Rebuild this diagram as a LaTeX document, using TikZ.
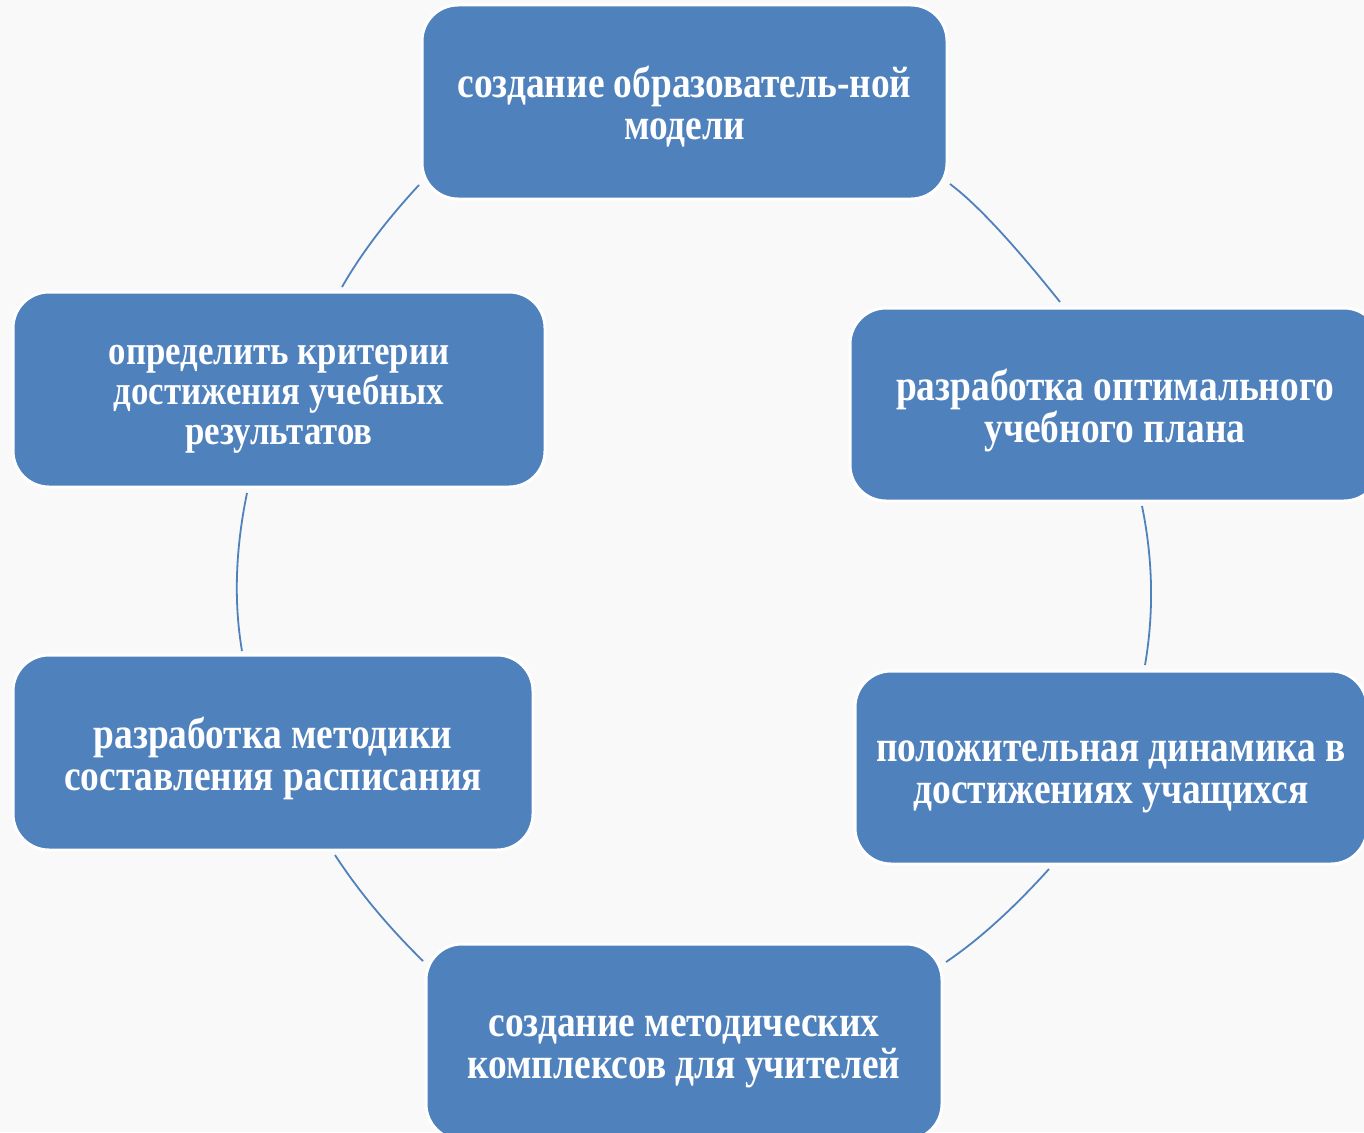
\documentclass[tikz,border=0pt]{standalone}
\usepackage{fontspec}
\setmainfont[FakeStretch=0.85]{Liberation Serif}
\definecolor{boxblue}{RGB}{79,129,189}
\definecolor{bgcol}{RGB}{249,249,249}
\begin{document}
\begin{tikzpicture}[x=1pt,y=-1pt,
  box/.style={draw=white, line width=3pt, fill=boxblue, rounded corners=36pt, inner sep=0pt},
  txt/.style={text=white, font=\fontsize{44}{42}\selectfont\bfseries, align=center, inner sep=0pt},
  link/.style={draw=boxblue, line width=1.8pt}]
\fill[bgcol] (0,0) rectangle (1364,1132);
\useasboundingbox (0,0) rectangle (1364,1132);
\clip (0,0) rectangle (1364,1132);
% arc end points
\coordinate (a1s) at (419,185);  \coordinate (a1e) at (342,287);
\coordinate (a2s) at (950,184);  \coordinate (a2e) at (1060,302);
\coordinate (a3s) at (247,493);  \coordinate (a3e) at (242,651);
\coordinate (a4s) at (1142,506); \coordinate (a4e) at (1145,665);
\coordinate (a5s) at (335,855);  \coordinate (a5e) at (423,961);
\coordinate (a6s) at (1049,869); \coordinate (a6e) at (946,962);
\draw[link] (a1s) .. controls (386.3,220.3) and (360.7,254.3) .. (a1e);
\draw[link] (a2s) .. controls (975.8,203.2) and (1012.5,242.5) .. (a2e);
\draw[link] (a3s) .. controls (235.3,549.7) and (233.7,602.3) .. (a3e);
\draw[link] (a4s) .. controls (1153,559.7) and (1154,612.7) .. (a4e);
\draw[link] (a5s) .. controls (358.5,891.1) and (387.8,926.4) .. (a5e);
\draw[link] (a6s) .. controls (1012.5,909.4) and (978.1,940.4) .. (a6e);
% boxes
\node[box, minimum width=525pt, minimum height=194pt,
  label={[txt, yshift=-5pt]center:{создание образователь-ной\\модели}}] (top) at (684.5,102) {};
\node[box, minimum width=530pt, minimum height=193pt,
  label={[txt, yshift=-6pt]center:{разработка оптимального\\учебного плана}}] (ru) at (1115,404.5) {};
\node[box, minimum width=512pt, minimum height=193pt,
  label={[txt, yshift=-9pt]center:{положительная динамика в\\достижениях учащихся}}] (rl) at (1111,767.5) {};
\node[box, minimum width=516pt, minimum height=196pt,
  label={[txt, yshift=-10pt]center:{создание методических\\комплексов для учителей}}] (bot) at (684,1042) {};
\node[box, minimum width=532pt, minimum height=195pt,
  label={[txt, font=\fontsize{41}{40}\selectfont\bfseries, yshift=-10pt]center:{определить критерии\\достижения учебных\\результатов}}] (ul) at (279,389.5) {};
\node[box, minimum width=520pt, minimum height=195pt,
  label={[txt, yshift=-5.5pt]center:{разработка методики\\составления расписания}}] (ll) at (273,752.5) {};
\end{tikzpicture}
\end{document}
